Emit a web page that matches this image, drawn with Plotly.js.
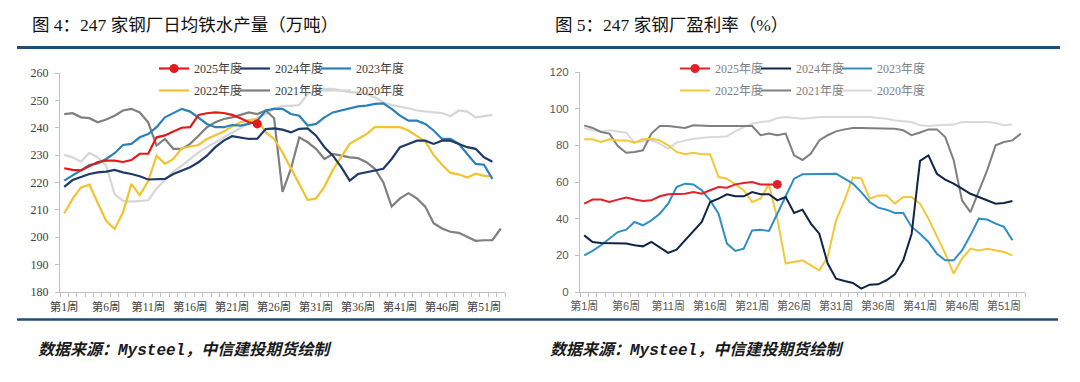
<!DOCTYPE html>
<html><head><meta charset="utf-8">
<script src="https://cdn.plot.ly/plotly-3.0.1.min.js"></script>
<style>html,body{margin:0;padding:0;background:#fff}#c{width:1080px;height:382px}</style>
</head><body><div id="c"></div>
<script>
// ---- categories / ticks ----
const weeks = [1,2,3,4,5,6,7,8,9,10,11,12,13,14,15,16,17,18,19,20,21,22,23,24,25,26,27,28,29,30,31,32,33,34,35,36,37,38,39,40,41,42,43,44,45,46,47,48,49,50,51,52,53];
const tickWeeks = [1,6,11,16,21,26,31,36,41,46,51];
const tickLabels = ['第1周','第6周','第11周','第16周','第21周','第26周','第31周','第36周','第41周','第46周','第51周'];
const seriesNames = ['2025年度','2024年度','2023年度','2022年度','2021年度','2020年度'];

// ---- 图4: 247家钢厂日均铁水产量 (万吨) ----
const iron2025 = [225.2,224.6,224.4,225.8,227.5,228.0,228.0,227.5,228.2,230.5,230.5,236.5,237.2,238.6,240.0,240.2,244.7,245.3,245.6,245.4,244.7,243.5,242.0,241.4];
const iron2024 = [218.4,220.9,222.0,223.1,223.7,224.0,224.6,223.7,223.1,222.3,221.1,221.3,221.3,223.1,224.4,225.6,227.4,229.8,232.9,235.3,236.9,236.5,235.9,236.0,239.5,239.8,239.3,238.3,239.6,239.8,237.1,232.9,229.8,225.6,220.7,223.1,223.7,224.4,225.0,228.6,232.9,234.1,235.3,235.3,234.1,235.3,235.3,234.1,232.9,232.3,229.2,227.6];
const iron2023 = [220.7,222.5,224.4,226.4,227.0,228.6,230.7,233.7,234.1,236.5,237.7,240.2,243.8,245.4,246.9,245.9,243.8,241.4,240.2,240.2,241.0,240.8,241.4,242.6,246.3,246.9,246.9,245.0,244.4,240.8,241.4,243.8,245.6,246.3,246.9,247.8,248.1,248.7,248.9,246.9,244.4,242.6,242.6,241.4,239.0,235.9,235.9,234.1,230.4,226.8,226.5,221.3];
const iron2022 = [208.7,214.0,218.2,219.2,212.5,206.0,203.0,209.0,219.5,215.3,220.5,229.8,226.8,228.6,232.5,233.2,233.7,235.9,237.4,238.6,240.5,242.0,242.8,243.2,238.3,235.9,231.0,225.0,219.5,213.6,214.2,218.5,224.6,229.2,234.1,235.9,237.7,240.2,240.2,240.2,240.2,239.0,237.1,235.0,230.0,226.5,223.5,223.0,221.8,223.2,222.4,222.2];
const iron2021 = [245.0,245.3,243.8,243.5,242.0,243.0,244.4,246.3,246.9,245.6,242.0,233.5,235.9,232.3,232.3,234.1,237.1,240.2,242.0,243.2,243.8,244.7,245.6,245.0,246.3,243.5,216.6,225.0,236.5,234.7,232.3,228.6,230.4,229.8,229.2,228.9,227.4,225.0,220.1,211.2,214.2,216.1,214.2,211.2,205.1,203.2,202.0,201.6,200.1,198.7,198.9,198.9,203.2];
const iron2020 = [230.1,229.2,227.6,230.8,229.2,226.2,215.8,213.3,213.0,213.3,213.5,217.8,220.9,224.0,226.2,228.6,231.0,232.9,234.7,236.5,238.3,240.2,242.0,243.5,245.0,246.9,248.0,248.0,248.3,252.3,253.5,254.2,254.2,253.5,252.9,252.9,252.3,251.1,249.3,248.3,247.8,247.1,246.3,245.9,245.6,245.4,244.2,246.3,245.9,243.8,244.2,244.7];

// ---- 图5: 247家钢厂盈利率 (%) ----
const prof2025 = [48.2,50.4,50.4,49.1,50.4,51.5,50.5,49.6,50.0,52.2,53.3,53.3,53.6,54.5,53.6,55.5,57.3,56.9,58.7,59.5,60.0,58.7,58.7,58.7];
const prof2024 = [30.9,27.3,26.7,26.7,26.4,26.4,25.5,24.9,27.3,24.5,21.3,23.1,28.2,33.6,38.2,49.1,50.9,53.3,52.2,52.2,54.5,53.3,53.3,50.0,51.8,43.1,44.9,37.3,31.8,15.5,7.3,6.0,4.9,1.8,4.0,4.2,6.4,9.6,17.3,31.8,71.5,74.5,64.5,61.3,59.1,56.4,53.6,51.8,50.0,48.2,48.5,49.6];
const prof2023 = [20.0,22.4,25.5,29.1,32.7,34.0,38.2,36.4,39.1,42.7,48.2,57.3,59.1,58.7,55.5,50.0,42.7,26.4,22.4,23.6,33.6,34.0,33.3,42.7,51.8,61.8,64.2,64.2,64.2,64.5,64.5,61.8,59.1,54.5,49.1,46.0,44.9,43.1,43.1,35.5,31.8,27.3,20.9,17.3,17.3,22.7,30.9,40.0,39.5,37.3,35.5,28.2];
const prof2022 = [83.3,83.3,81.8,83.3,82.7,82.7,81.5,83.3,83.6,82.7,80.0,76.4,75.1,76.0,75.1,75.1,62.7,61.8,58.7,55.5,49.1,50.9,58.7,40.0,15.5,16.4,17.3,14.5,11.8,19.1,39.1,50.0,62.5,62.0,50.9,52.7,52.7,48.2,51.8,51.8,48.2,40.0,30.9,20.9,10.0,18.2,23.6,22.7,23.6,22.7,21.8,20.0];
const prof2021 = [90.9,89.5,87.3,86.4,79.6,76.0,76.4,77.3,86.4,90.5,90.5,90.0,89.5,90.9,90.5,90.5,90.5,90.5,90.5,90.5,90.5,85.5,86.4,85.5,86.4,74.5,72.0,75.5,82.7,85.5,87.6,88.7,89.5,89.5,89.5,89.1,89.1,89.1,88.2,85.5,87.0,88.7,88.7,84.5,72.0,50.0,43.6,55.5,66.5,80.0,81.8,82.7,86.4];
const prof2020 = [89.5,88.2,87.6,88.2,87.6,86.9,81.5,82.2,82.7,80.9,78.2,81.5,82.7,83.6,84.0,84.5,84.5,85.0,87.6,90.0,91.8,92.7,93.1,94.9,95.5,94.9,94.5,94.9,95.5,95.5,95.5,95.8,95.8,95.5,95.5,94.9,94.5,93.6,93.1,92.7,90.9,90.5,90.9,90.9,91.3,92.7,92.7,92.7,92.7,92.2,90.9,91.3];

// ---- styling ----
const W = 1080, H = 382;
const px = v => v / W, py = v => 1 - v / H;
const SERIF = 'Liberation Serif, Noto Sans CJK SC, serif';
const SANS = 'Liberation Sans, Noto Sans CJK SC, sans-serif';
const leftColors = ['#e3191c','#1f3a68','#2a80b9','#f2c230','#7f7f7f','#d6d6d6'];
const rightColors = ['#e0202a','#0f2447','#2f8fc4','#f3c737','#7f7f7f','#d9d9d9'];

function buildTraces(data, colors, xa, ya, legA, legB, lw) {
  const t = [];
  const order = [5,4,3,2,1]; // draw 2020 first ... 2024
  order.forEach(i => {
    const tr = {x: weeks.slice(0, data[i].length), y: data[i], xaxis: xa, yaxis: ya, type: 'scatter', mode: 'lines',
      name: seriesNames[i], line: {color: colors[i], width: lw}, legend: i < 3 ? legA : legB, legendrank: i,
      hoverinfo: 'skip'};
    if (i === 2 || i === 5) tr.legendwidth = 60;
    t.push(tr);
  });
  const d = data[0];
  t.push({x: weeks.slice(0, d.length), y: d, xaxis: xa, yaxis: ya, type: 'scatter', mode: 'lines',
    name: seriesNames[0], showlegend: false, line: {color: colors[0], width: lw}, hoverinfo: 'skip'});
  t.push({x: [weeks[d.length - 1]], y: [d[d.length - 1]], xaxis: xa, yaxis: ya, type: 'scatter', mode: 'markers',
    showlegend: false, marker: {color: colors[0], size: 9}, hoverinfo: 'skip'});
  t.push({x: [null], y: [null], xaxis: xa, yaxis: ya, type: 'scatter', mode: 'lines+markers', name: seriesNames[0],
    legend: legA, legendrank: 0, line: {color: colors[0], width: lw}, marker: {color: colors[0], size: 9}});
  return t;
}

const traces = [].concat(
  buildTraces([iron2025, iron2024, iron2023, iron2022, iron2021, iron2020], leftColors, 'x', 'y', 'legend', 'legend2', 2.2),
  buildTraces([prof2025, prof2024, prof2023, prof2022, prof2021, prof2020], rightColors, 'x2', 'y2', 'legend3', 'legend4', 2)
);

function xAxis(dom, anchor, font) {
  return {domain: dom, anchor: anchor, type: 'linear', range: [0.5, 53.5], tickmode: 'array', tickvals: tickWeeks, ticktext: tickLabels,
    ticks: '', showline: true, linecolor: '#bfbfbf', linewidth: 1, showgrid: false, zeroline: false, fixedrange: true,
    minor: {ticks: 'outside', ticklen: 4, tickcolor: '#bfbfbf', tickwidth: 1, tickmode: 'linear', tick0: 0.5, dtick: 1, showgrid: false},
    tickfont: font, ticklabelstandoff: 4};
}
function yAxis(dom, anchor, rng, dt, font) {
  return {domain: dom, anchor: anchor, range: rng, dtick: dt, tick0: rng[0], showline: true, linecolor: '#bfbfbf', linewidth: 1,
    ticks: 'outside', ticklen: 4, tickcolor: '#bfbfbf', showgrid: false, zeroline: false, fixedrange: true, tickfont: font,
    ticklabelstandoff: 4};
}
function legendAt(x, y, color) {
  return {x: px(x), y: py(y), xanchor: 'left', yanchor: 'top', orientation: 'h', entrywidth: 36, entrywidthmode: 'pixels',
    bgcolor: 'rgba(0,0,0,0)', borderwidth: 0, font: {family: SERIF, size: 12, color: color}, itemwidth: 30, tracegroupgap: 0};
}

const titleFont = {family: SERIF, size: 17.5, color: '#111111'};
const srcFont = {family: 'Liberation Mono, Noto Sans CJK SC, monospace', size: 16, color: '#1a1a1a', style: 'italic', weight: 'bold'};

const layout = {
  width: W, height: H, margin: {l: 0, r: 0, t: 0, b: 0}, paper_bgcolor: '#fff', plot_bgcolor: 'rgba(0,0,0,0)',
  showlegend: true,
  xaxis: xAxis([px(60), px(505)], 'y', {family: SERIF, size: 11.5, color: '#404040'}),
  yaxis: yAxis([py(292), py(73)], 'x', [180, 260], 10, {family: SERIF, size: 12, color: '#404040'}),
  xaxis2: xAxis([px(580), px(1025)], 'y2', {family: SANS, size: 11, color: '#595959'}),
  yaxis2: yAxis([py(292), py(72)], 'x2', [0, 120], 20, {family: SANS, size: 11.5, color: '#595959'}),
  legend: legendAt(154, 54, '#404040'),
  legend2: legendAt(154, 76, '#404040'),
  legend3: legendAt(675, 54, '#808080'),
  legend4: legendAt(675, 76, '#808080'),
  shapes: [
    {type: 'line', xref: 'paper', yref: 'paper', x0: px(17), x1: px(1060), y0: py(47.5), y1: py(47.5), line: {color: '#1f4e79', width: 3}},
    {type: 'line', xref: 'paper', yref: 'paper', x0: px(17), x1: px(1058), y0: py(319.5), y1: py(319.5), line: {color: '#1f4e79', width: 2.5}}
  ],
  annotations: [
    {text: '图 4：247 家钢厂日均铁水产量（万吨）', xref: 'paper', yref: 'paper', x: px(30), y: py(25), xanchor: 'left', yanchor: 'middle', showarrow: false, font: titleFont},
    {text: '图 5：247 家钢厂盈利率（%）', xref: 'paper', yref: 'paper', x: px(553), y: py(25), xanchor: 'left', yanchor: 'middle', showarrow: false, font: titleFont},
    {text: '数据来源：Mysteel，中信建投期货绘制', xref: 'paper', yref: 'paper', x: px(36), y: py(350), xanchor: 'left', yanchor: 'middle', showarrow: false, font: srcFont},
    {text: '数据来源：Mysteel，中信建投期货绘制', xref: 'paper', yref: 'paper', x: px(548), y: py(350), xanchor: 'left', yanchor: 'middle', showarrow: false, font: srcFont}
  ]
};

Plotly.newPlot('c', traces, layout, {staticPlot: true, displayModeBar: false});
</script></body></html>
